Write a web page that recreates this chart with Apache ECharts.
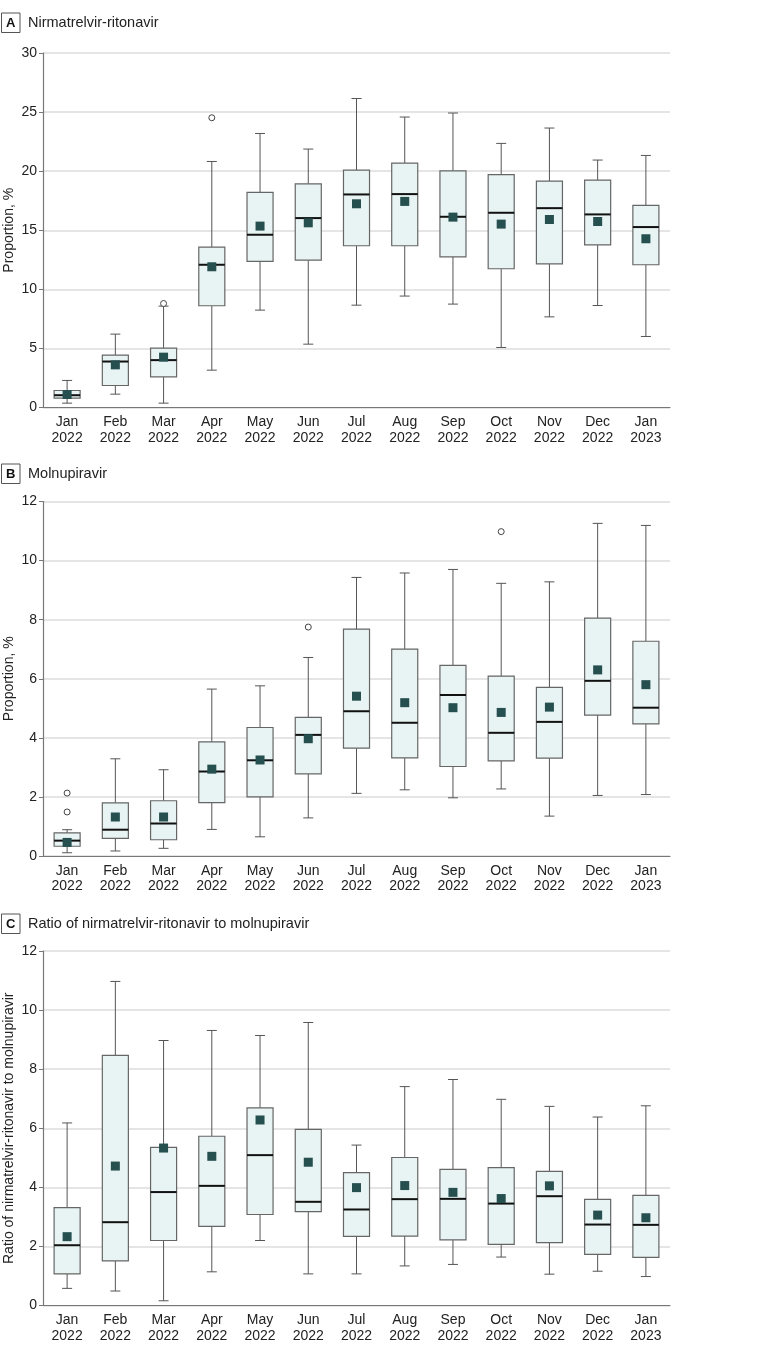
<!DOCTYPE html>
<html>
<head>
<meta charset="utf-8">
<script src="https://cdn.jsdelivr.net/npm/echarts@6/dist/echarts.min.js"></script>
<style>
html,body{margin:0;padding:0;background:#fff;}
#chart{width:783px;height:1353px;}
</style>
</head>
<body>
<div id="chart"></div>
<script>
// ---------- data ----------
const months = ['Jan\n2022','Feb\n2022','Mar\n2022','Apr\n2022','May\n2022','Jun\n2022','Jul\n2022','Aug\n2022','Sep\n2022','Oct\n2022','Nov\n2022','Dec\n2022','Jan\n2023'];

// Panel A: Nirmatrelvir-ritonavir (%)
const aLow  = [0.37, 1.13, 0.37, 3.16, 8.24, 5.36, 8.66, 9.43, 8.75, 5.08, 7.67, 8.63, 6.01];
const aQ1   = [0.79, 1.86, 2.60, 8.61, 12.36, 12.47, 13.69, 13.69, 12.75, 11.74, 12.16, 13.77, 12.08];
const aMed  = [1.04, 3.89, 4.01, 12.08, 14.62, 16.03, 18.03, 18.06, 16.14, 16.48, 16.87, 16.34, 15.27];
const aQ3   = [1.44, 4.43, 5.02, 13.57, 18.20, 18.93, 20.09, 20.68, 20.03, 19.70, 19.16, 19.24, 17.10];
const aHigh = [2.29, 6.21, 8.58, 20.82, 23.19, 21.87, 26.15, 24.58, 24.92, 22.35, 23.65, 20.94, 21.33];
const aMean = [1.10, 3.61, 4.26, 11.91, 15.35, 15.63, 17.24, 17.44, 16.11, 15.52, 15.91, 15.74, 14.28];
const aOut  = [[2, 8.80], [3, 24.52]];

// Panel B: Molnupiravir (%)
const bLow  = [0.11, 0.17, 0.26, 0.90, 0.65, 1.29, 2.12, 2.24, 1.97, 2.27, 1.35, 2.05, 2.08];
const bQ1   = [0.33, 0.60, 0.55, 1.81, 2.00, 2.78, 3.65, 3.32, 3.03, 3.22, 3.31, 4.77, 4.47];
const bMed  = [0.52, 0.89, 1.10, 2.86, 3.24, 4.10, 4.90, 4.51, 5.45, 4.17, 4.54, 5.93, 5.02];
const bQ3   = [0.78, 1.80, 1.87, 3.86, 4.35, 4.69, 7.68, 7.00, 6.45, 6.09, 5.71, 8.05, 7.27];
const bHigh = [0.89, 3.29, 2.92, 5.65, 5.76, 6.72, 9.43, 9.58, 9.70, 9.23, 9.28, 11.26, 11.19];
const bMean = [0.46, 1.32, 1.32, 2.94, 3.25, 3.97, 5.41, 5.19, 5.02, 4.86, 5.04, 6.30, 5.80];
const bOut  = [[0, 2.13], [0, 1.49], [5, 7.75], [9, 10.98]];

// Panel C: Ratio of nirmatrelvir-ritonavir to molnupiravir
const cLow  = [0.58, 0.49, 0.16, 1.14, 2.20, 1.07, 1.07, 1.34, 1.39, 1.64, 1.06, 1.16, 0.98];
const cQ1   = [1.07, 1.51, 2.20, 2.68, 3.08, 3.18, 2.34, 2.35, 2.22, 2.07, 2.13, 1.73, 1.63];
const cMed  = [2.04, 2.82, 3.84, 4.05, 5.09, 3.51, 3.25, 3.60, 3.61, 3.45, 3.70, 2.74, 2.73];
const cQ3   = [3.31, 8.47, 5.35, 5.73, 6.69, 5.96, 4.50, 5.01, 4.61, 4.67, 4.54, 3.59, 3.73];
const cHigh = [6.18, 10.97, 8.97, 9.31, 9.14, 9.58, 5.43, 7.41, 7.65, 6.98, 6.74, 6.38, 6.76];
const cMean = [2.33, 4.72, 5.33, 5.05, 6.28, 4.85, 3.99, 4.06, 3.83, 3.62, 4.05, 3.06, 2.97];
const cOut  = [];

const panelTitles = ['Nirmatrelvir-ritonavir', 'Molnupiravir', 'Ratio of nirmatrelvir-ritonavir to molnupiravir'];
const panelLetters = ['A', 'B', 'C'];
const yNames = ['Proportion, %', 'Proportion, %', 'Ratio of nirmatrelvir-ritonavir to molnupiravir'];
const yMax = [30, 12, 12];
const yInterval = [5, 2, 2];

// ---------- layout ----------
const FONT = '"Liberation Sans", Arial, sans-serif';
const gridTops = [53, 501.5, 951];
const gridHeight = 354.5;
const panelLabelY = [13, 464, 914];

const panels = [
  {low:aLow,q1:aQ1,med:aMed,q3:aQ3,high:aHigh,mean:aMean,out:aOut},
  {low:bLow,q1:bQ1,med:bMed,q3:bQ3,high:bHigh,mean:bMean,out:bOut},
  {low:cLow,q1:cQ1,med:cMed,q3:cQ3,high:cHigh,mean:cMean,out:cOut}
];

const grids = [], xAxes = [], yAxes = [], series = [], graphics = [];

function renderBox(params, api) {
  const i = api.value(0);
  const pLow = api.coord([i, api.value(1)]);
  const pQ1 = api.coord([i, api.value(2)]);
  const pMed = api.coord([i, api.value(3)]);
  const pQ3 = api.coord([i, api.value(4)]);
  const pHigh = api.coord([i, api.value(5)]);
  const bw = api.size([1, 0])[0] * 0.54;
  const cx = pMed[0];
  const cap = 5;
  const wStyle = {stroke: '#555', lineWidth: 1, fill: null};
  return {
    type: 'group',
    children: [
      {type: 'line', shape: {x1: cx, y1: pQ3[1], x2: cx, y2: pHigh[1]}, style: wStyle},
      {type: 'line', shape: {x1: cx, y1: pLow[1], x2: cx, y2: pQ1[1]}, style: wStyle},
      {type: 'line', shape: {x1: cx - cap, y1: pHigh[1], x2: cx + cap, y2: pHigh[1]}, style: wStyle},
      {type: 'line', shape: {x1: cx - cap, y1: pLow[1], x2: cx + cap, y2: pLow[1]}, style: wStyle},
      {type: 'rect', shape: {x: cx - bw / 2, y: pQ3[1], width: bw, height: pQ1[1] - pQ3[1]},
        style: {fill: '#e8f3f3', stroke: '#666', lineWidth: 1.2}},
      {type: 'line', shape: {x1: cx - bw / 2, y1: pMed[1], x2: cx + bw / 2, y2: pMed[1]},
        style: {stroke: '#111', lineWidth: 2}}
    ]
  };
}

panels.forEach((p, k) => {
  grids.push({left: 43, width: 627, top: gridTops[k], height: gridHeight,
    containLabel: false, outerBoundsMode: 'none'});
  xAxes.push({
    type: 'category', gridIndex: k, data: months, boundaryGap: true,
    axisLine: {lineStyle: {color: '#777', width: 1.2}},
    axisTick: {alignWithLabel: true, length: 4, lineStyle: {color: '#777'}},
    axisLabel: {color: '#222', fontFamily: FONT, fontSize: 14, lineHeight: 15.5, margin: 7, interval: 0},
    splitLine: {show: false}
  });
  yAxes.push({
    type: 'value', gridIndex: k, min: 0, max: yMax[k], interval: yInterval[k],
    name: yNames[k], nameLocation: 'middle', nameGap: 27, nameRotate: 90, nameMoveOverlap: false,
    nameTextStyle: {color: '#222', fontFamily: FONT, fontSize: 14},
    axisLine: {show: true, lineStyle: {color: '#777', width: 1.2}},
    axisTick: {show: true, length: 4, lineStyle: {color: '#777'}},
    axisLabel: {color: '#222', fontFamily: FONT, fontSize: 14, margin: 6},
    splitLine: {lineStyle: {color: '#dcdcdc', width: 1.5}}
  });
  const boxData = months.map((m, i) => [i, p.low[i], p.q1[i], p.med[i], p.q3[i], p.high[i]]);
  series.push({
    type: 'custom', xAxisIndex: k, yAxisIndex: k, z: 2,
    renderItem: renderBox,
    encode: {x: 0, y: [1, 2, 3, 4, 5]},
    data: boxData
  });
  series.push({
    type: 'scatter', xAxisIndex: k, yAxisIndex: k, z: 4,
    symbol: 'rect', symbolSize: 9,
    itemStyle: {color: '#25504f', opacity: 1},
    data: p.mean.map((v, i) => [i, v])
  });
  series.push({
    type: 'scatter', xAxisIndex: k, yAxisIndex: k, z: 4,
    symbol: 'circle', symbolSize: 6,
    itemStyle: {color: '#fff', borderColor: '#444', borderWidth: 1, opacity: 1},
    data: p.out
  });
  const ly = panelLabelY[k];
  graphics.push({type: 'rect', shape: {x: 1.5, y: ly, width: 18.5, height: 19.5},
    style: {fill: '#fff', stroke: '#555', lineWidth: 1}});
  graphics.push({type: 'text', x: 10.75, y: ly + 10,
    style: {text: panelLetters[k], font: 'bold 13px ' + FONT, fill: '#111', align: 'center', verticalAlign: 'middle'}});
  graphics.push({type: 'text', x: 28, y: ly + 10,
    style: {text: panelTitles[k], font: '14.5px ' + FONT, fill: '#222', align: 'left', verticalAlign: 'middle'}});
});

const chart = echarts.init(document.getElementById('chart'), null, {renderer: 'canvas'});
chart.setOption({
  animation: false,
  backgroundColor: '#fff',
  grid: grids,
  xAxis: xAxes,
  yAxis: yAxes,
  series: series,
  graphic: graphics
});
</script>
</body>
</html>
